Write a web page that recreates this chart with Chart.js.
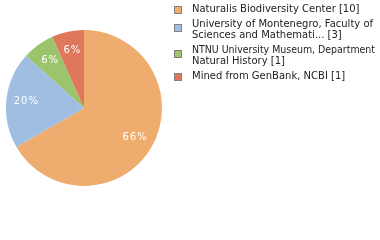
<!DOCTYPE html>
<html>
<head>
<meta charset="utf-8">
<script src="https://cdn.jsdelivr.net/npm/chart.js@4/dist/chart.umd.min.js"></script>
<style>
html,body{margin:0;padding:0;background:#fff;}
#wrap{position:relative;width:380px;height:240px;}
</style>
</head>
<body>
<div id="wrap"><canvas id="c" width="380" height="240"></canvas></div>
<script>
const categories = [
  ["Naturalis Biodiversity Center [10]"],
  ["University of Montenegro, Faculty of", "Sciences and Mathemati... [3]"],
  ["NTNU University Museum, Department", "Natural History [1]"],
  ["Mined from GenBank, NCBI [1]"]
];
const counts = [10, 3, 1, 1];
const colors = ["#EFAC6F", "#A0BDE2", "#9BC46D", "#DE775B"];

const FONT = "DejaVu Sans";

const sliceLabels = {
  id: 'sliceLabels',
  afterDatasetsDraw(chart) {
    const ctx = chart.ctx;
    const meta = chart.getDatasetMeta(0);
    const total = counts.reduce((a, b) => a + b, 0);
    ctx.save();
    ctx.fillStyle = '#ffffff';
    ctx.font = '10px "' + FONT + '"';
    ctx.textAlign = 'center';
    ctx.textBaseline = 'middle';
    meta.data.forEach((arc, i) => {
      const p = arc.getProps(['x', 'y', 'startAngle', 'endAngle', 'outerRadius'], true);
      const mid = (p.startAngle + p.endAngle) / 2;
      const r = p.outerRadius * 0.75;
      const pct = Math.floor(counts[i] / total * 100) + '%';
      const txt = pct.split('').join(String.fromCharCode(8202));
      ctx.fillText(txt, p.x + Math.cos(mid) * r, p.y + Math.sin(mid) * r);
    });
    ctx.restore();
  }
};

const sideLegend = {
  id: 'sideLegend',
  afterDraw(chart) {
    const ctx = chart.ctx;
    ctx.save();
    ctx.font = '10px "' + FONT + '"';
    ctx.textAlign = 'left';
    ctx.textBaseline = 'middle';
    const lineH = 11;
    const gap = 4;
    let y = 9.5;
    categories.forEach((lines, i) => {
      const sq = lines.length > 1 ? y + 3 : y + 0.5;
      ctx.fillStyle = colors[i];
      ctx.fillRect(174.5, Math.round(sq) - 3.5, 7, 7);
      ctx.strokeStyle = '#808080';
      ctx.lineWidth = 1;
      ctx.strokeRect(174.5, Math.round(sq) - 3.5, 7, 7);
      ctx.fillStyle = '#222222';
      lines.forEach((t, k) => {
        ctx.fillText(t, 192, y + k * lineH, 183);
      });
      y += lines.length * lineH + gap;
    });
    ctx.restore();
  }
};

new Chart(document.getElementById('c'), {
  type: 'pie',
  data: {
    labels: categories.map(l => l.join(' ')),
    datasets: [{
      data: counts,
      backgroundColor: colors,
      borderWidth: 0
    }]
  },
  options: {
    responsive: false,
    animation: false,
    events: [],
    layout: { padding: { left: 6, top: 30, right: 218, bottom: 54 } },
    plugins: { legend: { display: false }, tooltip: { enabled: false } }
  },
  plugins: [sliceLabels, sideLegend]
});
</script>
</body>
</html>
